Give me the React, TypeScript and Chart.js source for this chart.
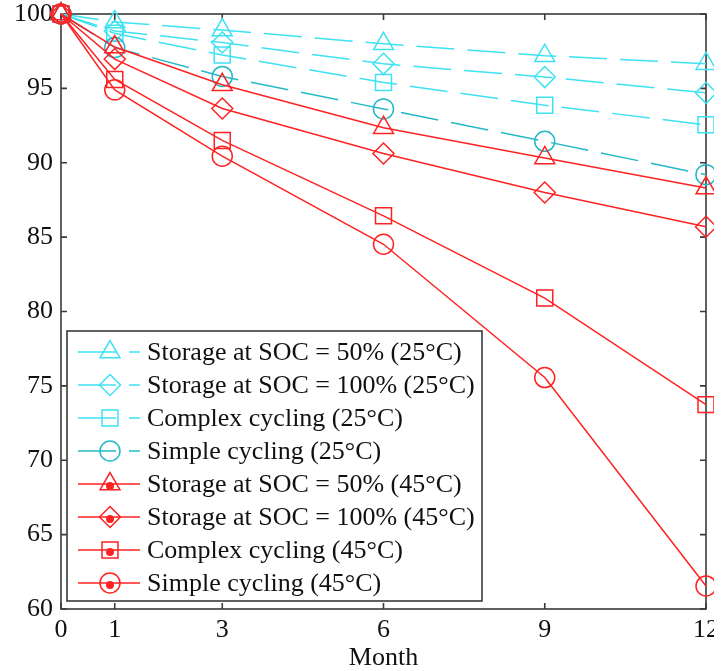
import React, { useEffect, useRef } from 'react';
import { Chart, registerables } from 'chart.js';

Chart.register(...registerables);

const months = [0, 1, 3, 6, 9, 12];
const xTicks = [0, 1, 3, 6, 9, 12];
const yTicks = [60, 65, 70, 75, 80, 85, 90, 95, 100];
const xTitle = 'Month';

const seriesLabels = [
  'Storage at SOC = 50% (25°C)',
  'Storage at SOC = 100% (25°C)',
  'Complex cycling (25°C)',
  'Simple cycling (25°C)',
  'Storage at SOC = 50% (45°C)',
  'Storage at SOC = 100% (45°C)',
  'Complex cycling (45°C)',
  'Simple cycling (45°C)',
];

const soc50_25 = [100, 99.46, 98.92, 98.0, 97.2, 96.66];
const soc100_25 = [100, 98.86, 98.08, 96.65, 95.76, 94.7];
const complex_25 = [100, 98.7, 97.24, 95.4, 93.87, 92.55];
const simple_25 = [100, 97.74, 95.8, 93.62, 91.44, 89.2];
const soc50_45 = [100, 97.78, 95.24, 92.36, 90.32, 88.3];
const soc100_45 = [100, 96.97, 93.65, 90.62, 88.0, 85.7];
const complex_45 = [100, 95.6, 91.5, 86.43, 80.9, 73.74];
const simple_45 = [100, 94.9, 90.44, 84.52, 75.56, 61.55];

const CYAN = '#3ee2f2';
const TEAL = '#25b9c8';
const RED = '#ff2222';
const AXIS = '#3a3a3a';
const FONT = '"Liberation Serif", "Times New Roman", serif';

const styles = [
  { color: CYAN, shape: 'triangle', r: 11.5, dash: true },
  { color: CYAN, shape: 'rectRot', r: 10.5, dash: true },
  { color: CYAN, shape: 'rect', r: 11.3, dash: true },
  { color: TEAL, shape: 'circle', r: 10, dash: true },
  { color: RED, shape: 'triangle', r: 11.5, dash: false },
  { color: RED, shape: 'rectRot', r: 10.5, dash: false },
  { color: RED, shape: 'rect', r: 11.3, dash: false },
  { color: RED, shape: 'circle', r: 10, dash: false },
];

const allSeries = [soc50_25, soc100_25, complex_25, simple_25, soc50_45, soc100_45, complex_45, simple_45];

function drawMarker(ctx: CanvasRenderingContext2D, shape: string, x: number, y: number, r: number) {
  ctx.beginPath();
  if (shape === 'triangle') {
    let a = 0;
    ctx.moveTo(x + Math.sin(a) * r, y - Math.cos(a) * r);
    a += (2 * Math.PI) / 3;
    ctx.lineTo(x + Math.sin(a) * r, y - Math.cos(a) * r);
    a += (2 * Math.PI) / 3;
    ctx.lineTo(x + Math.sin(a) * r, y - Math.cos(a) * r);
    ctx.closePath();
  } else if (shape === 'rectRot') {
    ctx.moveTo(x, y - r);
    ctx.lineTo(x + r, y);
    ctx.lineTo(x, y + r);
    ctx.lineTo(x - r, y);
    ctx.closePath();
  } else if (shape === 'rect') {
    const s = Math.SQRT1_2 * r;
    ctx.rect(x - s, y - s, 2 * s, 2 * s);
  } else {
    ctx.arc(x, y, r, 0, Math.PI * 2);
  }
  ctx.stroke();
}

const frameAndLegend = {
  id: 'frameAndLegend',
  beforeDatasetsDraw(chart: any) {
    const { ctx, chartArea: a, scales } = chart;
    ctx.save();
    ctx.strokeStyle = AXIS;
    ctx.lineWidth = 1.6;
    ctx.strokeRect(a.left, a.top, a.right - a.left, a.bottom - a.top);
    const tl = 6;
    ctx.beginPath();
    yTicks.forEach((v) => {
      const y = scales.y.getPixelForValue(v);
      ctx.moveTo(a.left, y);
      ctx.lineTo(a.left + tl, y);
      ctx.moveTo(a.right, y);
      ctx.lineTo(a.right - tl, y);
    });
    xTicks.forEach((v) => {
      const x = scales.x.getPixelForValue(v);
      ctx.moveTo(x, a.bottom);
      ctx.lineTo(x, a.bottom - tl);
      ctx.moveTo(x, a.top);
      ctx.lineTo(x, a.top + tl);
    });
    ctx.stroke();
    ctx.restore();
  },
  afterDatasetsDraw(chart: any) {
    const { ctx } = chart;
    const bx = 67, by = 331, bw = 415, bh = 270;
    ctx.save();
    ctx.fillStyle = '#ffffff';
    ctx.fillRect(bx, by, bw, bh);
    ctx.strokeStyle = AXIS;
    ctx.lineWidth = 1.6;
    ctx.strokeRect(bx, by, bw, bh);
    const rowH = 33;
    const y0 = 352;
    chart.data.datasets.forEach((ds: any, i: number) => {
      const st = styles[i];
      const y = y0 + i * rowH;
      ctx.strokeStyle = st.color;
      ctx.lineWidth = 1.5;
      ctx.setLineDash(st.dash ? [38, 13] : []);
      ctx.beginPath();
      ctx.moveTo(78, y);
      ctx.lineTo(140, y);
      ctx.stroke();
      ctx.setLineDash([]);
      drawMarker(ctx, st.shape, 110, y, st.r);
      if (!st.dash) {
        ctx.fillStyle = st.color;
        ctx.beginPath();
        ctx.arc(110, y + 2, 4, 0, Math.PI * 2);
        ctx.fill();
      }
      ctx.fillStyle = '#111111';
      ctx.font = `26px ${FONT}`;
      ctx.textAlign = 'left';
      ctx.textBaseline = 'middle';
      ctx.fillText(ds.label, 147, y + 1);
    });
    ctx.restore();
  },
};

export default function App() {
  const ref = useRef<HTMLCanvasElement | null>(null);
  useEffect(() => {
    if (!ref.current) return;
    const datasets = allSeries.map((vals, i) => {
      const st = styles[i];
      return {
        label: seriesLabels[i],
        data: months.map((m, j) => ({ x: m, y: vals[j] })),
        order: allSeries.length - 1 - i,
        borderColor: st.color,
        backgroundColor: 'rgba(0,0,0,0)',
        borderWidth: 1.5,
        borderDash: st.dash ? [38, 13] : [],
        pointStyle: st.shape,
        pointRadius: st.r,
        pointBorderWidth: 1.5,
        pointBorderColor: st.color,
        pointBackgroundColor: 'rgba(0,0,0,0)',
        tension: 0,
        clip: false as any,
      };
    });
    const chart = new Chart(ref.current, {
      type: 'line',
      data: { datasets },
      options: {
        animation: false,
        responsive: false,
        maintainAspectRatio: false,
        layout: { padding: { left: 0, right: 21, top: 14, bottom: 0 } },
        plugins: { legend: { display: false }, tooltip: { enabled: false } },
        scales: {
          x: {
            type: 'linear',
            min: 0,
            max: 12,
            grid: { display: false, drawTicks: false },
            border: { display: false },
            afterBuildTicks: (s: any) => {
              s.ticks = xTicks.map((v) => ({ value: v }));
            },
            afterFit: (s: any) => {
              s.height = 62;
            },
            ticks: {
              autoSkip: false,
              maxRotation: 0,
              padding: 6,
              color: '#111111',
              font: { family: FONT, size: 26 },
            },
            title: {
              display: true,
              text: xTitle,
              color: '#111111',
              font: { family: FONT, size: 26, lineHeight: 1 },
              padding: { top: 0, bottom: 0 },
            },
          },
          y: {
            type: 'linear',
            min: 60,
            max: 100,
            grid: { display: false, drawTicks: false },
            border: { display: false },
            afterBuildTicks: (s: any) => {
              s.ticks = yTicks.map((v) => ({ value: v }));
            },
            afterFit: (s: any) => {
              s.width = 61;
              s.paddingTop = 0;
              s.paddingBottom = 0;
            },
            ticks: {
              padding: 8,
              color: '#111111',
              font: { family: FONT, size: 26 },
            },
          },
        },
      },
      plugins: [frameAndLegend],
    });
    return () => chart.destroy();
  }, []);
  return (
    <div style={{ position: 'absolute', left: 0, top: 0, width: 727, height: 671, background: '#fff' }}>
      <div style={{ width: 714, height: 671, overflow: 'hidden' }}>
        <canvas ref={ref} width={727} height={671} style={{ display: 'block' }} />
      </div>
    </div>
  );
}
